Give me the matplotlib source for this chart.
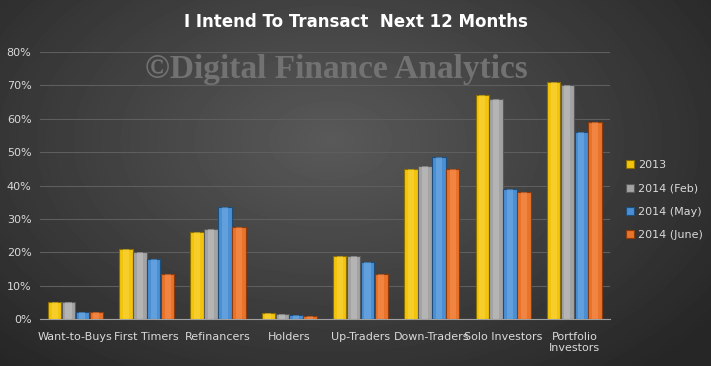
import numpy as np
import matplotlib
matplotlib.use('Agg')
import matplotlib.pyplot as plt
from matplotlib.ticker import PercentFormatter

categories = ['Want-to-Buys', 'First Timers', 'Refinancers', 'Holders', 'Up-Traders',
              'Down-Traders', 'Solo Investors', 'Portfolio\nInvestors']
series = ['2013', '2014 (Feb)', '2014 (May)', '2014 (June)']
v2013 = [5, 21, 26, 1.8, 19, 45, 67, 71]
vfeb = [5, 20, 27, 1.5, 19, 46, 66, 70]
vmay = [2.2, 18, 33.5, 1.2, 17, 48.5, 39, 56]
vjune = [2.2, 13.5, 27.5, 0.8, 13.5, 45, 38, 59]
values = [v2013, vfeb, vmay, vjune]
colors = ['#f2c40c', '#a3a3a3', '#4a8fd4', '#e8732a']
edges = ['#8a6d00', '#5a5a5a', '#1f4d7a', '#8a3a0c']
highlights = ['#ffe066', '#d6d6d6', '#8cc0ee', '#ffa46a']

fig = plt.figure(figsize=(7.11, 3.66), dpi=100)

# radial gradient background
bg = fig.add_axes([0, 0, 1, 1])
yy, xx = np.mgrid[0:366, 0:711]
r = np.sqrt(((xx - 330) / 500.0) ** 2 + ((yy - 140) / 320.0) ** 2)
shade = np.clip(0.35 - 0.21 * r, 0.15, 0.35)
bg.imshow(shade, cmap='gray', vmin=0, vmax=1, aspect='auto', extent=[0, 1, 0, 1], origin='upper')
bg.axis('off')

ax = fig.add_axes([0.056, 0.128, 0.802, 0.73])
ax.set_facecolor('none')
x = np.arange(len(categories))
w = 0.19
for i, (vals, c) in enumerate(zip(values, colors)):
    pos = x + (i - 1.5) * 0.195
    ax.bar(pos, vals, w, color=c, edgecolor=edges[i], linewidth=0.8, label=series[i], zorder=3)
    ax.bar(pos, vals, w * 0.45, color=highlights[i], alpha=0.35, linewidth=0, zorder=4)

ax.set_ylim(0, 80)
ax.set_xlim(-0.5, len(categories) - 0.5)
ax.yaxis.set_major_formatter(PercentFormatter(decimals=0))
ax.set_yticks(np.arange(0, 81, 10))
ax.set_xticks(x)
ax.set_xticklabels(categories)
ax.grid(axis='y', color='#5e5e5e', linewidth=0.8, zorder=0)
for s in ['top', 'right', 'left']:
    ax.spines[s].set_visible(False)
ax.spines['bottom'].set_color('#a0a0a0')
ax.tick_params(axis='both', length=0, colors='#d9d9d9', labelsize=8)
ax.tick_params(axis='x', pad=9)
ax.tick_params(axis='y', pad=6)

leg = ax.legend(loc='center left', bbox_to_anchor=(1.01, 0.445), frameon=False, fontsize=8,
                labelcolor='#d9d9d9', handlelength=0.7, handleheight=0.7, labelspacing=1.2,
                handletextpad=0.4)

fig.text(0.5, 0.94, 'I Intend To Transact  Next 12 Months', ha='center', va='center',
         color='white', fontsize=12, fontweight='bold')
fig.text(0.473, 0.81, '\u00a9Digital Finance Analytics', ha='center', va='center',
         color='#727272', fontsize=24, fontweight='bold', family='Liberation Serif', zorder=10)

fig.savefig('out.png', dpi=100)
